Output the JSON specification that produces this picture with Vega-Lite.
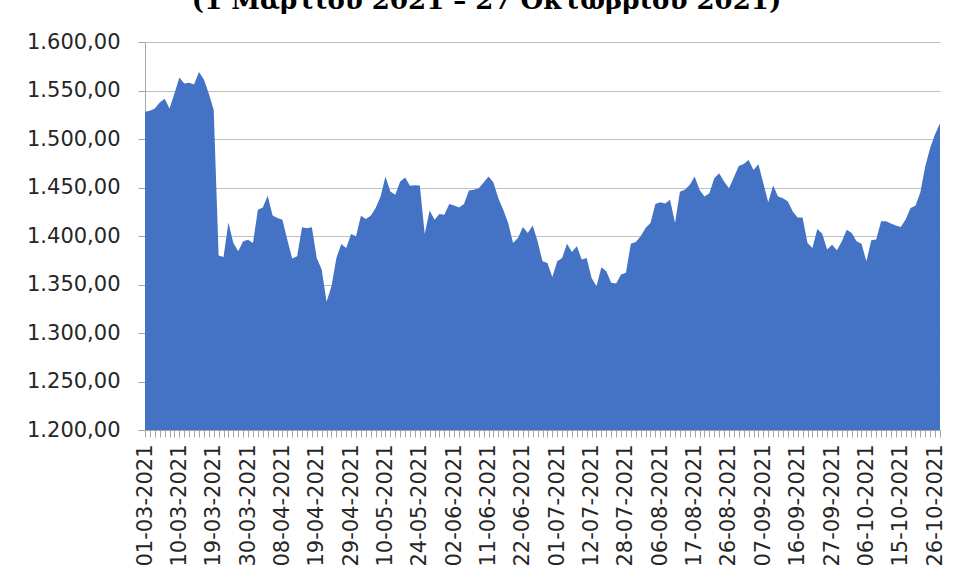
{
  "$schema": "https://vega.github.io/schema/vega-lite/v6.json",
  "width": 795,
  "height": 388,
  "autosize": {"type": "none"},
  "padding": {"left": 145, "top": 42, "right": 14, "bottom": 152},
  "background": "#ffffff",
  "title": {
    "text": "(1 Μαρτίου 2021 – 27 Οκτωβρίου 2021)",
    "font": "DejaVu Serif",
    "fontSize": 26,
    "fontWeight": "bold",
    "color": "#000000",
    "anchor": "middle",
    "baseline": "alphabetic",
    "dx": -56,
    "offset": -4
  },
  "data": {
    "values": [
      {"date": "01-03-2021", "value": 1528.1},
      {"date": "02-03-2021", "value": 1529.1},
      {"date": "03-03-2021", "value": 1531.5},
      {"date": "04-03-2021", "value": 1537.7},
      {"date": "05-03-2021", "value": 1541.4},
      {"date": "08-03-2021", "value": 1531.5},
      {"date": "09-03-2021", "value": 1546.9},
      {"date": "10-03-2021", "value": 1563.4},
      {"date": "11-03-2021", "value": 1557.2},
      {"date": "12-03-2021", "value": 1557.9},
      {"date": "15-03-2021", "value": 1556.2},
      {"date": "16-03-2021", "value": 1569.2},
      {"date": "17-03-2021", "value": 1561.3},
      {"date": "18-03-2021", "value": 1546.9},
      {"date": "19-03-2021", "value": 1529.8},
      {"date": "22-03-2021", "value": 1379.8},
      {"date": "23-03-2021", "value": 1378.4},
      {"date": "24-03-2021", "value": 1414.0},
      {"date": "25-03-2021", "value": 1392.8},
      {"date": "26-03-2021", "value": 1384.2},
      {"date": "29-03-2021", "value": 1394.5},
      {"date": "30-03-2021", "value": 1396.2},
      {"date": "31-03-2021", "value": 1392.8},
      {"date": "01-04-2021", "value": 1427.0},
      {"date": "02-04-2021", "value": 1429.4},
      {"date": "05-04-2021", "value": 1441.4},
      {"date": "06-04-2021", "value": 1421.2},
      {"date": "07-04-2021", "value": 1418.5},
      {"date": "08-04-2021", "value": 1416.8},
      {"date": "09-04-2021", "value": 1396.2},
      {"date": "12-04-2021", "value": 1376.7},
      {"date": "13-04-2021", "value": 1379.1},
      {"date": "14-04-2021", "value": 1408.9},
      {"date": "15-04-2021", "value": 1407.9},
      {"date": "16-04-2021", "value": 1408.9},
      {"date": "19-04-2021", "value": 1377.4},
      {"date": "20-04-2021", "value": 1365.4},
      {"date": "21-04-2021", "value": 1332.2},
      {"date": "22-04-2021", "value": 1348.3},
      {"date": "23-04-2021", "value": 1377.4},
      {"date": "26-04-2021", "value": 1391.8},
      {"date": "27-04-2021", "value": 1387.7},
      {"date": "29-04-2021", "value": 1402.1},
      {"date": "30-04-2021", "value": 1399.7},
      {"date": "03-05-2021", "value": 1420.9},
      {"date": "04-05-2021", "value": 1417.5},
      {"date": "05-05-2021", "value": 1420.9},
      {"date": "06-05-2021", "value": 1428.8},
      {"date": "07-05-2021", "value": 1440.7},
      {"date": "10-05-2021", "value": 1461.3},
      {"date": "11-05-2021", "value": 1445.9},
      {"date": "12-05-2021", "value": 1442.4},
      {"date": "14-05-2021", "value": 1456.2},
      {"date": "17-05-2021", "value": 1460.3},
      {"date": "18-05-2021", "value": 1451.7},
      {"date": "20-05-2021", "value": 1452.4},
      {"date": "24-05-2021", "value": 1452.0},
      {"date": "25-05-2021", "value": 1402.0},
      {"date": "26-05-2021", "value": 1426.4},
      {"date": "27-05-2021", "value": 1416.8},
      {"date": "28-05-2021", "value": 1422.6},
      {"date": "31-05-2021", "value": 1421.9},
      {"date": "01-06-2021", "value": 1432.9},
      {"date": "02-06-2021", "value": 1431.5},
      {"date": "03-06-2021", "value": 1429.4},
      {"date": "04-06-2021", "value": 1432.9},
      {"date": "07-06-2021", "value": 1446.9},
      {"date": "08-06-2021", "value": 1447.6},
      {"date": "09-06-2021", "value": 1449.3},
      {"date": "10-06-2021", "value": 1455.1},
      {"date": "11-06-2021", "value": 1461.3},
      {"date": "14-06-2021", "value": 1455.1},
      {"date": "15-06-2021", "value": 1439.0},
      {"date": "16-06-2021", "value": 1427.0},
      {"date": "17-06-2021", "value": 1413.3},
      {"date": "18-06-2021", "value": 1392.8},
      {"date": "21-06-2021", "value": 1397.9},
      {"date": "22-06-2021", "value": 1409.2},
      {"date": "23-06-2021", "value": 1403.0},
      {"date": "24-06-2021", "value": 1410.9},
      {"date": "25-06-2021", "value": 1394.5},
      {"date": "28-06-2021", "value": 1373.9},
      {"date": "29-06-2021", "value": 1372.2},
      {"date": "30-06-2021", "value": 1357.8},
      {"date": "01-07-2021", "value": 1373.9},
      {"date": "02-07-2021", "value": 1377.4},
      {"date": "05-07-2021", "value": 1392.1},
      {"date": "06-07-2021", "value": 1383.5},
      {"date": "07-07-2021", "value": 1389.4},
      {"date": "08-07-2021", "value": 1375.7},
      {"date": "09-07-2021", "value": 1377.4},
      {"date": "12-07-2021", "value": 1356.8},
      {"date": "13-07-2021", "value": 1348.3},
      {"date": "14-07-2021", "value": 1367.8},
      {"date": "16-07-2021", "value": 1363.7},
      {"date": "19-07-2021", "value": 1351.7},
      {"date": "21-07-2021", "value": 1351.0},
      {"date": "26-07-2021", "value": 1360.3},
      {"date": "28-07-2021", "value": 1362.0},
      {"date": "29-07-2021", "value": 1392.1},
      {"date": "30-07-2021", "value": 1393.8},
      {"date": "02-08-2021", "value": 1399.7},
      {"date": "03-08-2021", "value": 1408.2},
      {"date": "04-08-2021", "value": 1413.3},
      {"date": "05-08-2021", "value": 1432.9},
      {"date": "06-08-2021", "value": 1434.9},
      {"date": "09-08-2021", "value": 1433.5},
      {"date": "10-08-2021", "value": 1437.3},
      {"date": "11-08-2021", "value": 1413.3},
      {"date": "12-08-2021", "value": 1445.5},
      {"date": "13-08-2021", "value": 1447.6},
      {"date": "16-08-2021", "value": 1452.7},
      {"date": "17-08-2021", "value": 1461.3},
      {"date": "18-08-2021", "value": 1447.6},
      {"date": "19-08-2021", "value": 1440.7},
      {"date": "20-08-2021", "value": 1444.2},
      {"date": "23-08-2021", "value": 1459.6},
      {"date": "24-08-2021", "value": 1464.7},
      {"date": "25-08-2021", "value": 1456.2},
      {"date": "26-08-2021", "value": 1449.3},
      {"date": "27-08-2021", "value": 1460.6},
      {"date": "31-08-2021", "value": 1472.2},
      {"date": "01-09-2021", "value": 1474.3},
      {"date": "02-09-2021", "value": 1478.4},
      {"date": "03-09-2021", "value": 1468.1},
      {"date": "06-09-2021", "value": 1473.9},
      {"date": "07-09-2021", "value": 1454.4},
      {"date": "08-09-2021", "value": 1434.9},
      {"date": "09-09-2021", "value": 1452.0},
      {"date": "10-09-2021", "value": 1440.7},
      {"date": "13-09-2021", "value": 1439.0},
      {"date": "14-09-2021", "value": 1435.6},
      {"date": "15-09-2021", "value": 1425.3},
      {"date": "16-09-2021", "value": 1419.2},
      {"date": "17-09-2021", "value": 1419.2},
      {"date": "20-09-2021", "value": 1392.8},
      {"date": "21-09-2021", "value": 1387.7},
      {"date": "22-09-2021", "value": 1407.2},
      {"date": "23-09-2021", "value": 1402.4},
      {"date": "24-09-2021", "value": 1386.0},
      {"date": "27-09-2021", "value": 1391.1},
      {"date": "28-09-2021", "value": 1385.3},
      {"date": "29-09-2021", "value": 1394.5},
      {"date": "30-09-2021", "value": 1406.5},
      {"date": "01-10-2021", "value": 1403.1},
      {"date": "04-10-2021", "value": 1394.5},
      {"date": "05-10-2021", "value": 1392.1},
      {"date": "06-10-2021", "value": 1373.9},
      {"date": "07-10-2021", "value": 1395.7},
      {"date": "08-10-2021", "value": 1396.4},
      {"date": "11-10-2021", "value": 1415.2},
      {"date": "12-10-2021", "value": 1415.2},
      {"date": "13-10-2021", "value": 1412.9},
      {"date": "14-10-2021", "value": 1410.8},
      {"date": "15-10-2021", "value": 1409.4},
      {"date": "18-10-2021", "value": 1416.9},
      {"date": "19-10-2021", "value": 1428.9},
      {"date": "20-10-2021", "value": 1431.2},
      {"date": "21-10-2021", "value": 1445.0},
      {"date": "22-10-2021", "value": 1472.0},
      {"date": "25-10-2021", "value": 1491.0},
      {"date": "26-10-2021", "value": 1504.8},
      {"date": "27-10-2021", "value": 1516.2}
    ]
  },
  "mark": {"type": "area", "color": "#4472C4", "opacity": 1, "line": false},
  "encoding": {
    "x": {
      "field": "date",
      "type": "ordinal",
      "sort": null,
      "scale": {"type": "point", "padding": 0},
      "axis": {
        "title": null,
        "labelAngle": -90,
        "labelExpr": "indexof(['01-03-2021','10-03-2021','19-03-2021','30-03-2021','08-04-2021','19-04-2021','29-04-2021','10-05-2021','24-05-2021','02-06-2021','11-06-2021','22-06-2021','01-07-2021','12-07-2021','28-07-2021','06-08-2021','17-08-2021','26-08-2021','07-09-2021','16-09-2021','27-09-2021','06-10-2021','15-10-2021','26-10-2021'], datum.value) >= 0 ? datum.value : ''",
        "labelOverlap": false,
        "labelBound": false,
        "labelFont": "DejaVu Sans",
        "labelFontSize": 21,
        "labelColor": "#262626",
        "labelPadding": 7,
        "tickColor": "#a6a6a6",
        "tickSize": 7,
        "domainColor": "#a6a6a6",
        "grid": false
      }
    },
    "y": {
      "field": "value",
      "type": "quantitative",
      "scale": {"domain": [1200, 1600], "zero": false, "nice": false},
      "axis": {
        "title": null,
        "values": [1200, 1250, 1300, 1350, 1400, 1450, 1500, 1550, 1600],
        "labelExpr": "replace(replace(replace(format(datum.value, ',.2f'), ',', '#'), '.', ','), '#', '.')",
        "labelFont": "DejaVu Sans",
        "labelFontSize": 21,
        "labelColor": "#262626",
        "labelPadding": 18,
        "tickColor": "#a6a6a6",
        "tickSize": 7,
        "domainColor": "#a6a6a6",
        "grid": true,
        "gridColor": "#bfbfbf",
        "gridWidth": 1
      }
    },
    "y2": {"datum": 1200}
  },
  "config": {
    "view": {"stroke": null}
  }
}
